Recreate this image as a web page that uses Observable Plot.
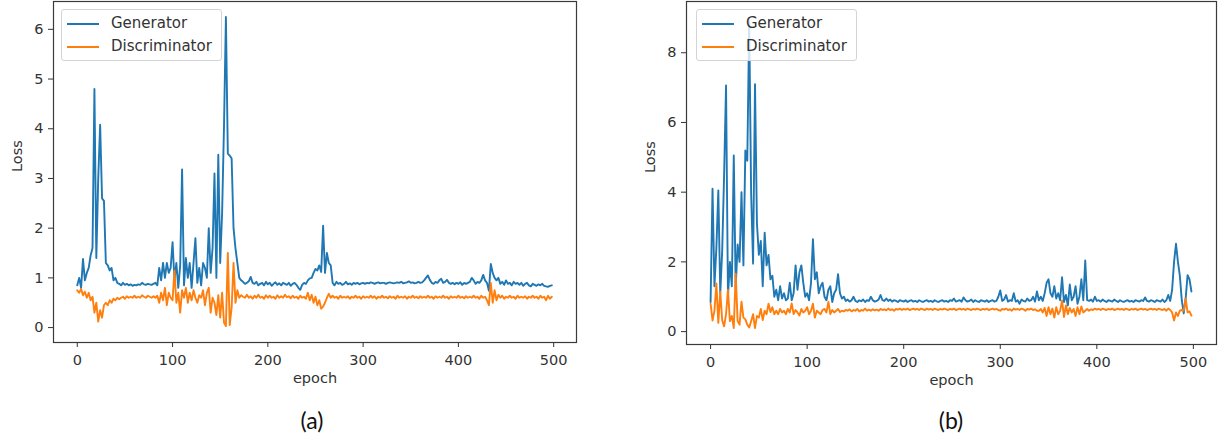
<!DOCTYPE html>
<html><head><meta charset="utf-8">
<script src="https://cdn.jsdelivr.net/npm/d3@7"></script>
<script src="https://cdn.jsdelivr.net/npm/@observablehq/plot@0.6"></script>
<style>
body{margin:0;background:#fff;}
#wrap{position:relative;width:1221px;height:442px;overflow:hidden;background:#fff;}
#wrap svg{position:absolute;top:0;}
.legend{position:absolute;top:9px;height:52px;background:rgba(255,255,255,0.8);border:1px solid #d4d4d4;border-radius:3px;box-sizing:border-box;font-family:"DejaVu Sans";font-size:15px;color:#333;}
.legend .sw{position:absolute;left:5px;width:32px;height:2px;}
.legend .lb{position:absolute;left:49px;line-height:18px;white-space:nowrap;}
.caption{position:absolute;top:406px;font-family:Lato;font-size:23px;color:#111;transform:translateX(-50%);}
</style></head>
<body><div id="wrap"></div>
<script>
// epochs sampled every 2 epochs (0..498)
const epochs = d3.range(0, 500, 2);
const seriesNames = ["Generator", "Discriminator"];
const seriesColors = ["#1f77b4", "#ff7f0e"];
const xTicks = [0, 100, 200, 300, 400, 500];
const yTicksA = [0, 1, 2, 3, 4, 5, 6];
const yTicksB = [0, 2, 4, 6, 8];
const captions = ["(a)", "(b)"];

const genA = [
0.85,1.0,0.8,1.38,0.95,1.1,1.2,1.45,1.6,4.8,
1.4,3.0,4.08,2.6,2.55,1.3,1.25,1.15,1.2,0.95,
1.0,0.9,0.88,0.85,0.9,0.86,0.88,0.85,0.87,0.84,
0.86,0.85,0.87,0.86,0.9,0.87,0.86,0.88,0.87,0.86,
0.88,0.9,0.85,1.2,0.95,1.3,1.0,1.3,1.1,1.2,
1.72,0.95,1.3,0.8,1.25,3.18,0.85,1.4,1.0,1.3,
0.8,1.3,1.8,0.9,1.2,0.85,1.3,1.2,1.0,2.0,
1.1,1.6,3.1,1.0,3.48,1.3,2.3,4.06,6.25,3.5,
3.46,3.4,2.0,1.6,1.3,1.0,0.95,0.92,0.88,0.9,
0.93,1.02,0.9,0.88,0.92,0.85,0.88,0.9,0.85,0.92,
0.87,0.9,0.84,0.88,0.91,0.86,0.89,0.85,0.9,0.88,
0.86,0.9,0.84,0.88,0.9,0.86,0.8,0.76,0.86,0.9,
0.88,0.95,0.99,1.0,1.1,1.18,1.15,1.25,1.12,2.05,
1.1,1.5,1.3,1.25,0.9,0.85,0.92,0.88,0.9,0.86,
0.88,0.92,0.87,0.89,0.86,0.9,0.88,0.9,0.87,0.89,
0.9,0.88,0.9,0.89,0.91,0.9,0.88,0.9,0.91,0.89,
0.9,0.9,0.88,0.9,0.91,0.9,0.89,0.9,0.91,0.9,
0.92,0.89,0.9,0.91,0.93,0.9,0.91,0.89,0.9,0.92,
0.9,0.91,0.95,1.0,1.05,0.96,0.9,0.88,0.92,0.9,
0.95,0.98,0.9,0.92,0.96,0.9,0.88,0.9,0.87,0.9,
0.88,0.91,0.86,0.9,0.88,0.9,0.92,1.0,0.95,0.88,
0.92,0.9,0.95,1.06,0.95,0.9,0.74,1.28,1.1,1.0,
0.95,1.0,0.88,0.92,0.86,0.95,0.88,0.9,0.85,0.92,
0.88,0.9,0.86,0.9,0.84,0.88,0.9,0.85,0.83,0.88,
0.86,0.84,0.87,0.85,0.88,0.84,0.83,0.82,0.84,0.85];

const discA = [
0.75,0.7,0.78,0.65,0.72,0.6,0.7,0.55,0.62,0.3,
0.5,0.12,0.35,0.2,0.45,0.5,0.45,0.55,0.5,0.58,
0.55,0.6,0.57,0.6,0.62,0.58,0.63,0.6,0.62,0.6,
0.64,0.6,0.62,0.6,0.65,0.62,0.6,0.64,0.62,0.6,
0.63,0.6,0.64,0.5,0.7,0.55,0.8,0.45,0.7,0.6,
0.55,1.15,0.5,0.7,0.3,0.75,0.6,0.8,0.5,0.7,
0.55,0.75,0.6,0.5,0.65,0.6,0.75,0.45,0.7,0.8,
0.3,0.6,0.5,0.25,0.65,0.2,0.7,0.1,0.03,1.5,
0.05,0.4,1.3,0.5,0.75,0.6,0.65,0.62,0.6,0.66,
0.6,0.63,0.58,0.64,0.6,0.66,0.6,0.62,0.58,0.65,
0.6,0.64,0.6,0.62,0.58,0.65,0.6,0.63,0.6,0.66,
0.61,0.63,0.59,0.64,0.6,0.62,0.58,0.64,0.6,0.62,
0.58,0.7,0.55,0.66,0.5,0.62,0.45,0.55,0.38,0.42,
0.5,0.6,0.68,0.6,0.64,0.6,0.62,0.58,0.64,0.6,
0.62,0.6,0.63,0.58,0.62,0.6,0.64,0.6,0.62,0.58,
0.63,0.6,0.62,0.6,0.64,0.6,0.63,0.58,0.62,0.6,
0.64,0.6,0.62,0.59,0.63,0.6,0.62,0.58,0.64,0.6,
0.62,0.6,0.63,0.58,0.62,0.6,0.64,0.6,0.62,0.59,
0.63,0.6,0.62,0.6,0.64,0.6,0.62,0.58,0.63,0.6,
0.62,0.6,0.64,0.6,0.62,0.58,0.63,0.6,0.62,0.6,
0.64,0.6,0.62,0.59,0.63,0.6,0.62,0.6,0.64,0.6,
0.62,0.58,0.64,0.6,0.62,0.55,0.45,0.9,0.5,0.75,
0.55,0.66,0.6,0.64,0.58,0.62,0.6,0.64,0.6,0.62,
0.58,0.64,0.6,0.62,0.6,0.63,0.58,0.62,0.6,0.64,
0.6,0.62,0.58,0.64,0.6,0.62,0.55,0.64,0.58,0.62];

const genB = [
0.85,4.1,1.3,2.4,4.05,1.1,2.3,4.5,7.06,1.0,
2.0,1.3,5.05,1.25,2.5,2.0,4.0,1.9,5.2,4.9,
8.9,3.95,1.95,7.1,3.1,2.2,2.6,1.3,2.84,1.9,
2.2,1.5,1.6,1.0,1.2,0.9,1.3,0.95,1.1,0.9,
0.95,1.4,0.9,1.1,1.9,1.2,1.7,1.9,1.4,1.0,
1.1,0.9,1.4,2.65,1.5,1.7,1.1,1.3,1.4,1.0,
0.9,1.2,1.3,0.85,1.1,1.2,1.65,1.1,0.95,1.0,
0.88,0.92,0.86,0.9,1.0,0.88,0.85,0.9,0.87,0.92,
0.85,0.9,0.88,1.0,0.9,0.86,0.88,0.92,1.05,0.9,
0.88,0.95,0.88,0.92,0.86,0.9,0.88,0.85,0.9,0.88,
0.86,0.9,0.85,0.88,0.9,0.86,0.88,0.85,0.9,0.87,
0.85,0.88,0.9,0.86,0.88,0.85,0.9,0.87,0.85,0.88,
0.9,0.86,0.88,0.85,0.9,0.88,0.95,0.86,0.88,0.9,
0.86,0.98,0.9,0.86,0.88,0.92,0.85,0.9,0.87,0.85,
0.9,0.88,0.86,0.9,0.85,0.88,0.9,0.86,0.88,1.0,
1.18,0.88,0.92,1.05,0.86,0.9,0.88,1.1,0.86,0.9,
0.8,0.92,0.88,0.86,0.95,0.88,0.9,1.0,0.86,1.15,
0.9,1.0,0.88,1.1,1.4,1.5,1.1,1.0,1.3,0.95,
1.1,0.9,1.56,0.85,1.05,0.75,1.35,0.9,1.0,1.3,
0.8,1.0,1.5,0.9,2.04,0.9,0.88,0.92,0.86,1.0,
0.88,0.9,0.86,0.92,0.88,0.85,0.9,0.88,0.86,0.92,
0.88,0.85,0.9,0.87,0.85,0.88,0.9,0.86,0.88,0.85,
0.9,0.88,0.86,0.9,0.88,0.98,0.88,0.86,0.9,0.88,
0.85,0.9,0.88,0.86,0.92,0.85,0.9,1.05,0.88,1.2,
2.0,2.52,2.0,1.6,0.9,0.52,0.95,1.62,1.5,1.15];

const discB = [
0.8,0.32,0.6,1.38,0.25,1.15,0.33,0.15,0.5,1.2,
0.3,0.45,0.1,1.66,0.3,0.2,0.86,0.4,0.35,0.2,
0.12,0.3,0.5,0.1,0.45,0.4,0.65,0.33,0.6,0.5,
0.8,0.56,0.7,0.5,0.6,0.5,0.65,0.55,0.6,0.5,
0.65,0.55,0.81,0.5,0.62,0.55,0.46,0.65,0.55,0.6,
0.7,0.5,0.6,0.8,0.4,0.6,0.55,0.5,0.62,0.65,
0.55,0.85,0.5,0.62,0.55,0.6,0.65,0.56,0.6,0.58,
0.62,0.6,0.64,0.58,0.62,0.6,0.65,0.58,0.62,0.6,
0.66,0.6,0.63,0.6,0.64,0.61,0.63,0.6,0.65,0.62,
0.64,0.61,0.66,0.62,0.64,0.6,0.65,0.63,0.66,0.62,
0.65,0.63,0.66,0.62,0.64,0.66,0.63,0.65,0.62,0.66,
0.64,0.62,0.66,0.63,0.65,0.62,0.66,0.64,0.62,0.65,
0.63,0.66,0.64,0.62,0.65,0.63,0.66,0.62,0.64,0.66,
0.63,0.65,0.62,0.66,0.64,0.62,0.65,0.63,0.66,0.64,
0.62,0.65,0.63,0.66,0.62,0.64,0.66,0.63,0.65,0.62,
0.6,0.65,0.63,0.66,0.62,0.64,0.6,0.66,0.63,0.65,
0.62,0.66,0.64,0.6,0.65,0.63,0.66,0.62,0.64,0.6,
0.6,0.65,0.55,0.68,0.45,0.7,0.5,0.66,0.4,0.7,
0.5,0.6,0.89,0.42,0.75,0.5,0.68,0.55,0.65,0.45,
0.7,0.5,0.72,0.55,0.6,0.65,0.6,0.64,0.62,0.66,
0.63,0.65,0.62,0.66,0.64,0.62,0.65,0.63,0.66,0.62,
0.64,0.66,0.63,0.65,0.62,0.66,0.64,0.62,0.65,0.63,
0.66,0.62,0.64,0.66,0.63,0.65,0.62,0.64,0.66,0.63,
0.65,0.62,0.66,0.64,0.62,0.65,0.6,0.66,0.62,0.55,
0.32,0.55,0.45,0.6,0.62,0.6,0.95,0.55,0.58,0.46];

const toRows = vals => vals.map((v, i) => ({epoch: epochs[i], loss: v}));

function panel(cfg) {
  return Plot.plot({
    width: cfg.width, height: 400,
    marginLeft: cfg.ml, marginRight: cfg.mr, marginTop: 1, marginBottom: cfg.mb,
    style: {fontFamily: "DejaVu Sans", fontSize: "14.5px", color: "#333", background: "transparent", overflow: "visible"},
    x: {domain: [-24.95, 523.95]},
    y: {domain: cfg.ydomain},
    marks: [
      Plot.line(toRows(cfg.gen), {x: "epoch", y: "loss", stroke: seriesColors[0], strokeWidth: 1.9, strokeLinejoin: "round"}),
      Plot.line(toRows(cfg.disc), {x: "epoch", y: "loss", stroke: seriesColors[1], strokeWidth: 1.9, strokeLinejoin: "round"}),
      Plot.frame({stroke: "#3a3a3a", strokeWidth: 1.2}),
      Plot.axisX({ticks: xTicks, tickSize: 5, tickPadding: 7, tickFormat: d => String(d), label: null}),
      Plot.axisY({ticks: cfg.yticks, tickSize: 5, tickPadding: 5, tickFormat: d => String(d), label: null}),
      Plot.text(["epoch"], {frameAnchor: "bottom", dy: 40, text: d => d, fontSize: 14.5}),
      Plot.text(["Loss"], {frameAnchor: "left", dx: -36, rotate: -90, text: d => d, fontSize: 14.5})
    ]
  });
}

const wrap = document.getElementById("wrap");
const svgA = panel({width: 600, ml: 53, mr: 24, mb: 58, ydomain: [-0.3, 6.56], yticks: yTicksA, gen: genA, disc: discA});
svgA.style.left = "0px";
wrap.appendChild(svgA);
const svgB = panel({width: 601, ml: 66, mr: 5, mb: 56, ydomain: [-0.37, 9.47], yticks: yTicksB, gen: genB, disc: discB});
svgB.style.left = "620px";
wrap.appendChild(svgB);

function legend(left) {
  const box = document.createElement("div");
  box.className = "legend";
  box.style.left = left + "px";
  box.style.width = "161px";
  seriesNames.forEach((name, i) => {
    const cy = 14 + i * 23;
    const sw = document.createElement("div");
    sw.className = "sw"; sw.style.top = (cy - 1) + "px"; sw.style.background = seriesColors[i];
    const lb = document.createElement("div");
    lb.className = "lb"; lb.style.top = (cy - 10) + "px"; lb.textContent = name;
    box.appendChild(sw); box.appendChild(lb);
  });
  wrap.appendChild(box);
}
legend(61);
legend(696);

[[312, captions[0]], [951, captions[1]]].forEach(([x, t]) => {
  const c = document.createElement("div");
  c.className = "caption"; c.style.left = x + "px"; c.textContent = t;
  wrap.appendChild(c);
});
</script>
</body></html>
